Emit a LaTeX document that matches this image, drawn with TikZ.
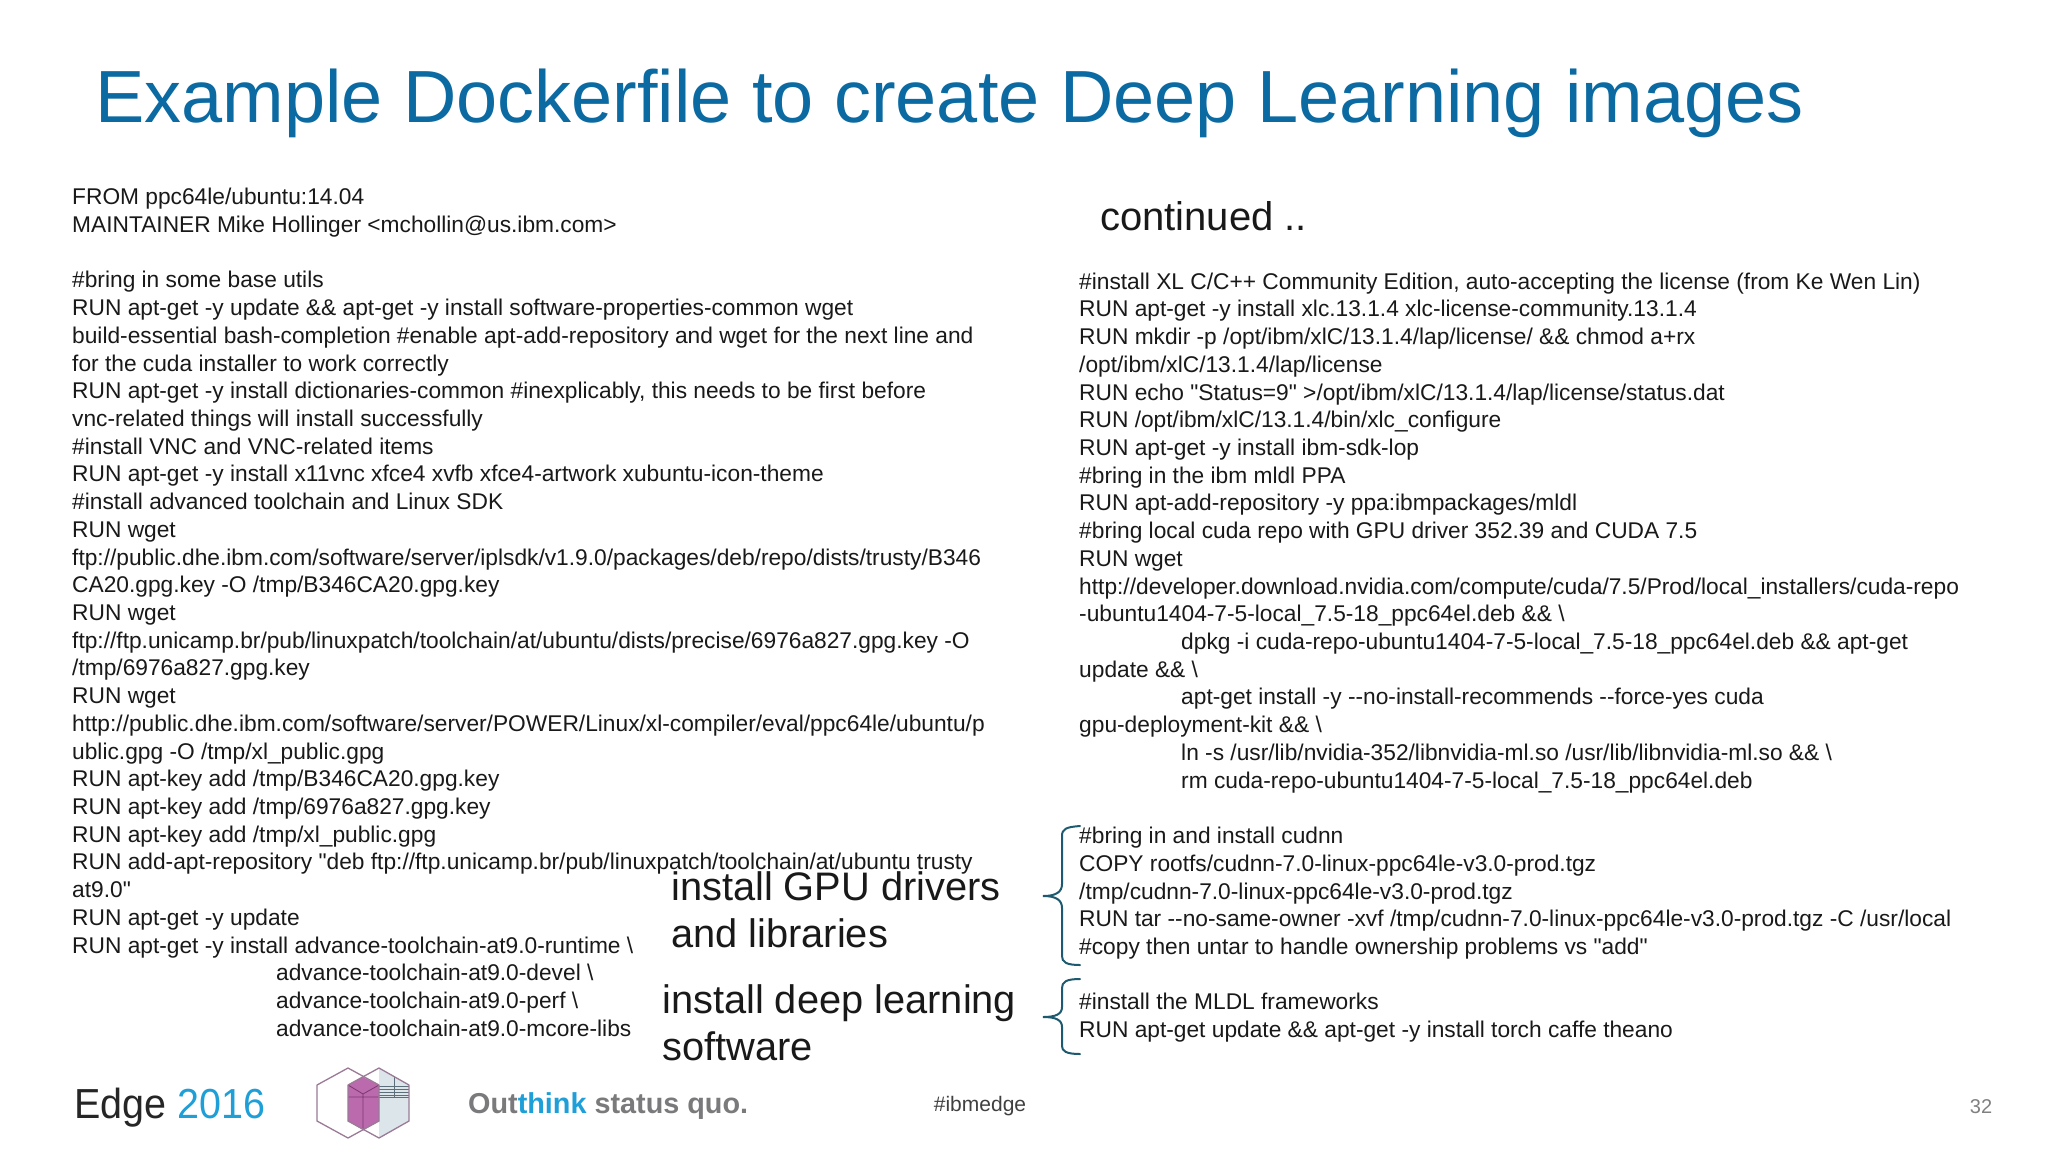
\documentclass[tikz,border=0pt]{standalone}
\usepackage{fontspec}
\newfontfamily\lib{Liberation Sans}
\newfontfamily\libstretch{Liberation Sans}[FakeStretch=0.94]
\definecolor{titleblue}{HTML}{0B6AA2}
\definecolor{bracecol}{HTML}{1D5A70}
\definecolor{edgeblue}{HTML}{1F9FD8}
\definecolor{logogray}{HTML}{7A7A7C}
\definecolor{hexline}{HTML}{9A7A96}
\definecolor{magentafill}{HTML}{B0509F}
\definecolor{glassfill}{HTML}{DCE6EA}
\definecolor{glassline}{HTML}{5C6E7A}
\tikzset{
 code/.style={anchor=north west,inner sep=0pt,align=left,font=\fontsize{22.74}{27.72}\selectfont,text=black!90},
 callout/.style={anchor=north west,inner sep=0pt,align=left,font=\fontsize{39.8}{47}\selectfont,text=black!90},
 bracepath/.style={draw=bracecol,line width=2pt,line cap=round},
 hexpath/.style={draw=hexline,line width=1.3pt,line join=round},
}
\newcommand{\ind}[1]{\hspace*{#1pt}}
\newcommand{\bs}{\textbackslash}
\begin{document}
\begin{tikzpicture}[x=1pt,y=-1pt]
\lib
\useasboundingbox[fill=white] (0,0) rectangle (2048,1152);
\node[anchor=base west,inner sep=0pt,text=titleblue,font=\fontsize{73.9}{80}\selectfont] (title) at (95,122) {Example Dockerfile to create Deep Learning images};
\node[code] (left) at (72,188) {FROM ppc64le/ubuntu:14.04\\
MAINTAINER Mike Hollinger <mchollin@us.ibm.com>\\
\mbox{}\\
\#bring in some base utils\\
RUN apt-get -y update \&\& apt-get -y install software-properties-common wget\\
build-essential bash-completion \#enable apt-add-repository and wget for the next line and\\
for the cuda installer to work correctly\\
RUN apt-get -y install dictionaries-common \#inexplicably, this needs to be first before\\
vnc-related things will install successfully\\
\#install VNC and VNC-related items\\
RUN apt-get -y install x11vnc xfce4 xvfb xfce4-artwork xubuntu-icon-theme\\
\#install advanced toolchain and Linux SDK\\
RUN wget\\
ftp://public.dhe.ibm.com/software/server/iplsdk/v1.9.0/packages/deb/repo/dists/trusty/B346\\
CA20.gpg.key -O /tmp/B346CA20.gpg.key\\
RUN wget\\
ftp://ftp.unicamp.br/pub/linuxpatch/toolchain/at/ubuntu/dists/precise/6976a827.gpg.key -O\\
/tmp/6976a827.gpg.key\\
RUN wget\\
http://public.dhe.ibm.com/software/server/POWER/Linux/xl-compiler/eval/ppc64le/ubuntu/p\\
ublic.gpg -O /tmp/xl\_public.gpg\\
RUN apt-key add /tmp/B346CA20.gpg.key\\
RUN apt-key add /tmp/6976a827.gpg.key\\
RUN apt-key add /tmp/xl\_public.gpg\\
RUN add-apt-repository "deb ftp://ftp.unicamp.br/pub/linuxpatch/toolchain/at/ubuntu trusty\\
at9.0"\\
RUN apt-get -y update\\
RUN apt-get -y install advance-toolchain-at9.0-runtime \bs\\
\ind{204}advance-toolchain-at9.0-devel \bs\\
\ind{204}advance-toolchain-at9.0-perf \bs\\
\ind{204}advance-toolchain-at9.0-mcore-libs};
\node[anchor=base west,inner sep=0pt,font=\fontsize{40}{47}\selectfont,text=black!90] (cont) at (1100,230) {continued ..};
\node[code] (right) at (1079,272.5) {\#install XL C/C++ Community Edition, auto-accepting the license (from Ke Wen Lin)\\
RUN apt-get -y install xlc.13.1.4 xlc-license-community.13.1.4\\
RUN mkdir -p /opt/ibm/xlC/13.1.4/lap/license/ \&\& chmod a+rx\\
/opt/ibm/xlC/13.1.4/lap/license\\
RUN echo "Status=9" >/opt/ibm/xlC/13.1.4/lap/license/status.dat\\
RUN /opt/ibm/xlC/13.1.4/bin/xlc\_configure\\
RUN apt-get -y install ibm-sdk-lop\\
\#bring in the ibm mldl PPA\\
RUN apt-add-repository -y ppa:ibmpackages/mldl\\
\#bring local cuda repo with GPU driver 352.39 and CUDA 7.5\\
RUN wget\\
http://developer.download.nvidia.com/compute/cuda/7.5/Prod/local\_installers/cuda-repo\\
-ubuntu1404-7-5-local\_7.5-18\_ppc64el.deb \&\& \bs\\
\ind{102}dpkg -i cuda-repo-ubuntu1404-7-5-local\_7.5-18\_ppc64el.deb \&\& apt-get\\
update \&\& \bs\\
\ind{102}apt-get install -y --no-install-recommends --force-yes cuda\\
gpu-deployment-kit \&\& \bs\\
\ind{102}ln -s /usr/lib/nvidia-352/libnvidia-ml.so /usr/lib/libnvidia-ml.so \&\& \bs\\
\ind{102}rm cuda-repo-ubuntu1404-7-5-local\_7.5-18\_ppc64el.deb\\
\mbox{}\\
\#bring in and install cudnn\\
COPY rootfs/cudnn-7.0-linux-ppc64le-v3.0-prod.tgz\\
/tmp/cudnn-7.0-linux-ppc64le-v3.0-prod.tgz\\
RUN tar --no-same-owner -xvf /tmp/cudnn-7.0-linux-ppc64le-v3.0-prod.tgz -C /usr/local\\
\#copy then untar to handle ownership problems vs "add"\\
\mbox{}\\
\#install the MLDL frameworks\\
RUN apt-get update \&\& apt-get -y install torch caffe theano};
\node[callout] (gpu) at (671,871.5) {install GPU drivers\\and libraries};
\node[callout] (dl) at (662,984.5) {install deep learning\\software};
% braces
\draw[bracepath] (1080,826) .. controls (1066,827) and (1062,829) .. (1062,836) -- (1062,884) .. controls (1062,892) and (1056,896) .. (1043,896) .. controls (1056,896) and (1062,900) .. (1062,908) -- (1062,956) .. controls (1062,962) and (1066,965) .. (1080,965);
\draw[bracepath] (1080,979) .. controls (1066,979) and (1062,982) .. (1062,988) -- (1062,1007) .. controls (1062,1014) and (1056,1017) .. (1043,1017) .. controls (1056,1017) and (1062,1020) .. (1062,1027) -- (1062,1046) .. controls (1062,1051) and (1066,1054) .. (1080,1054);
% footer
\node[anchor=base west,inner sep=0pt,font=\libstretch\fontsize{42}{46}\selectfont] (edge) at (74,1118) {\textcolor{black!85}{Edge} \textcolor{edgeblue}{2016}};
% logo
\fill[glassfill] (379,1068) -- (409,1085) -- (409,1121) -- (379,1138) -- cycle;
\foreach \yy in {1086,1089,1092,1095,1097}
  \draw[glassline,line width=.6pt] (379,\yy) -- (409,\yy);
\draw[glassline,line width=1pt] (394,1077) -- (394,1097);
\fill[magentafill,fill opacity=.85] (363,1077) -- (379,1085) -- (379,1121) -- (363,1130) -- (348,1121) -- (348,1085) -- cycle;
\draw[magentafill!70!black,line width=.8pt] (348,1085) -- (363,1094) -- (379,1085) (363,1094) -- (363,1130) (348,1097) -- (379,1097);
\draw[hexpath] (348,1068) -- (379,1085) -- (379,1121) -- (348,1138) -- (317,1121) -- (317,1085) -- cycle;
\draw[hexpath] (379,1068) -- (409,1085) -- (409,1121) -- (379,1138) -- (348,1121) -- (348,1085) -- cycle;
\node[anchor=base west,inner sep=0pt,font=\bfseries\fontsize{28.8}{32}\selectfont] (out) at (468,1113) {\textcolor{logogray}{Out}\textcolor{edgeblue}{think} \textcolor{logogray}{status quo.}};
\node[anchor=base,inner sep=0pt,font=\fontsize{21}{24}\selectfont,text=black!75] (tag) at (980,1111) {\#ibmedge};
\node[anchor=base,inner sep=0pt,font=\fontsize{20}{24}\selectfont,text=black!50] (num) at (1981,1113) {32};
\end{tikzpicture}
\end{document}
